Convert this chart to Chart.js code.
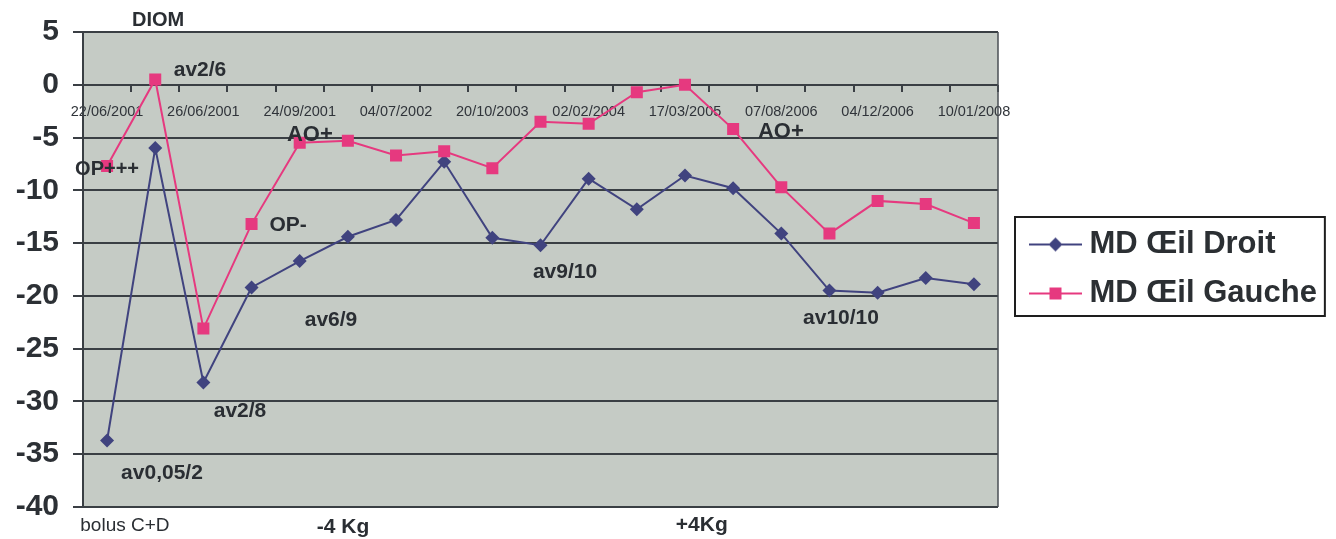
<!DOCTYPE html>
<html>
<head>
<meta charset="utf-8">
<script src="https://cdn.jsdelivr.net/npm/chart.js@4.4.0/dist/chart.umd.min.js"></script>
<style>
  html, body { margin: 0; padding: 0; background: #ffffff; }
  #wrap { width: 1336px; height: 539px; position: relative; }
</style>
</head>
<body>
<div id="wrap"><canvas id="c"></canvas></div>
<script>
// Visit dates (every other one is printed on the axis)
const dateLabels = ['22/06/2001', '', '26/06/2001', '', '24/09/2001', '', '04/07/2002', '',
  '20/10/2003', '', '02/02/2004', '', '17/03/2005', '', '07/08/2006', '', '04/12/2006', '', '10/01/2008'];

// Mean deviation (dB), right eye
const oeilDroit = [-33.7, -6.0, -28.2, -19.2, -16.7, -14.4, -12.8, -7.3, -14.5, -15.2,
  -8.9, -11.8, -8.6, -9.8, -14.1, -19.5, -19.7, -18.3, -18.9];

// Mean deviation (dB), left eye
const oeilGauche = [-7.7, 0.5, -23.1, -13.2, -5.5, -5.3, -6.7, -6.3, -7.9, -3.5,
  -3.7, -0.7, 0.0, -4.2, -9.7, -14.1, -11.0, -11.3, -13.1];

const seriesNames = ['MD Œil Droit', 'MD Œil Gauche'];
const yMin = -40, yMax = 5, yStep = 5;

// Clinical notes, placed by category index and MD value
const noteTexts  = ['DIOM', 'av2/6', 'OP+++', 'AO+', 'OP-', 'av6/9', 'av2/8', 'av0,05/2', 'av9/10', 'AO+', 'av10/10', 'bolus C+D', '-4 Kg', '+4Kg'];
const noteIndex  = [1.06, 1.93, 0.0, 4.21, 3.76, 4.65, 2.76, 1.14, 9.51, 13.99, 15.24, 0.37, 4.9, 12.35];
const noteValue  = [6.06, 1.37, -8.0, -4.73, -13.26, -22.3, -30.9, -36.8, -17.8, -4.45, -22.1, -41.8, -41.9, -41.7];
const noteBold   = [true, true, true, true, true, true, true, true, true, true, true, false, true, true];
const noteSize   = [20, 21, 20, 22, 21, 21, 21, 21, 21, 22, 21, 19, 21, 21];

const FONT = "'Liberation Sans', Arial, Helvetica, sans-serif";
const BLUE = '#40437f';
const PINK = '#e6397f';
const INK = '#2a2e33';
const PLOT_RIGHT = 998;

// Legend glyph: short line with the series marker
function legendGlyph(color, shape) {
  const c = document.createElement('canvas');
  c.width = 74; c.height = 20;
  const g = c.getContext('2d');
  g.strokeStyle = color; g.lineWidth = 2;
  g.beginPath(); g.moveTo(21, 10); g.lineTo(74, 10); g.stroke();
  g.fillStyle = color;
  g.beginPath();
  if (shape === 'diamond') {
    g.moveTo(47.5, 3); g.lineTo(54.5, 10); g.lineTo(47.5, 17); g.lineTo(40.5, 10); g.closePath();
  } else {
    g.rect(41.5, 4, 12, 12);
  }
  g.fill();
  return c;
}
const glyphs = [legendGlyph(BLUE, 'diamond'), legendGlyph(PINK, 'square')];

const plotBackground = {
  id: 'plotBackground',
  beforeDraw(chart) {
    const { ctx, chartArea: a } = chart;
    ctx.save();
    ctx.fillStyle = '#c5cbc5';
    ctx.fillRect(a.left, a.top, a.right - a.left, a.bottom - a.top);
    ctx.restore();
  },
  afterDraw(chart) {
    const { ctx, chartArea: a } = chart;
    ctx.save();
    ctx.strokeStyle = '#4a4f54';
    ctx.lineWidth = 1.5;
    ctx.beginPath();
    ctx.moveTo(a.right, a.top); ctx.lineTo(a.right, a.bottom);
    ctx.stroke();
    // legend frame
    const hb = chart.legend.legendHitBoxes;
    if (hb && hb.length === 2) {
      const x0 = hb[0].left - 1;
      const y0 = hb[0].top - 12;
      const x1 = Math.max(hb[0].left + hb[0].width, hb[1].left + hb[1].width) + 8;
      const y1 = hb[1].top + hb[1].height + 7;
      ctx.strokeStyle = '#1e1e1e';
      ctx.lineWidth = 2;
      ctx.strokeRect(x0, y0, x1 - x0, y1 - y0);
    }
    ctx.restore();
  }
};

const notesPlugin = {
  id: 'notes',
  afterDraw(chart) {
    const { ctx } = chart;
    const xs = chart.scales.x, ys = chart.scales.y;
    ctx.save();
    ctx.fillStyle = INK;
    ctx.textAlign = 'center';
    ctx.textBaseline = 'middle';
    noteTexts.forEach((t, i) => {
      ctx.font = (noteBold[i] ? 'bold ' : '') + noteSize[i] + 'px ' + FONT;
      ctx.fillText(t, xs.getPixelForValue(noteIndex[i]), ys.getPixelForValue(noteValue[i]));
    });
    ctx.restore();
  }
};

const chart = new Chart(document.getElementById('c'), {
  type: 'line',
  data: {
    labels: dateLabels,
    datasets: [
      {
        label: seriesNames[0], data: oeilDroit, order: 2,
        borderColor: BLUE, backgroundColor: BLUE, borderWidth: 2,
        pointStyle: 'rectRot', pointRadius: 7, pointHoverRadius: 7,
        pointBackgroundColor: BLUE, pointBorderColor: BLUE, pointBorderWidth: 0,
        tension: 0
      },
      {
        label: seriesNames[1], data: oeilGauche, order: 1,
        borderColor: PINK, backgroundColor: PINK, borderWidth: 2,
        pointStyle: 'rect', pointRadius: 8.5, pointHoverRadius: 8.5,
        pointBackgroundColor: PINK, pointBorderColor: PINK, pointBorderWidth: 0,
        tension: 0
      }
    ]
  },
  options: {
    responsive: true,
    maintainAspectRatio: false,
    animation: false,
    layout: { padding: { left: 0, right: 10, top: 29, bottom: 30 } },
    plugins: {
      tooltip: { enabled: false },
      legend: {
        position: 'right',
        align: 'center',
        labels: {
          usePointStyle: true,
          pointStyleWidth: 58,
          padding: 18,
          color: '#2b2f33',
          font: { family: FONT, size: 31, weight: 'bold' },
          generateLabels(ch) {
            return ch.data.datasets.map((ds, i) => ({
              text: ds.label, datasetIndex: i, pointStyle: glyphs[i],
              fillStyle: 'transparent', strokeStyle: 'transparent', lineWidth: 0,
              fontColor: '#2b2f33', hidden: false
            }));
          }
        }
      }
    },
    scales: {
      x: {
        type: 'category',
        position: { y: 0 },
        offset: true,
        grid: { offset: true, drawOnChartArea: false, drawTicks: true, tickLength: 7, color: '#3a3f44', lineWidth: 2 },
        border: { display: false },
        ticks: {
          autoSkip: false, maxRotation: 0, minRotation: 0, padding: 12,
          color: '#30343a', font: { family: FONT, size: 14.5 }
        }
      },
      y: {
        min: yMin, max: yMax,
        afterFit(s) { s.width = 83; },
        grid: { color: '#3a3f44', lineWidth: 2, drawTicks: true, tickLength: 10 },
        border: { display: true, color: '#3a3f44', width: 2 },
        ticks: {
          stepSize: yStep, padding: 14,
          color: '#2c3035', font: { family: FONT, size: 30, weight: 'bold' }
        }
      }
    }
  },
  plugins: [plotBackground, notesPlugin]
});

// keep the plot's right edge fixed regardless of legend text metrics
const drift = chart.chartArea.right - PLOT_RIGHT;
if (Math.abs(drift) > 0.5) {
  chart.options.layout.padding.right += drift;
  chart.update('none');
}
</script>
</body>
</html>
